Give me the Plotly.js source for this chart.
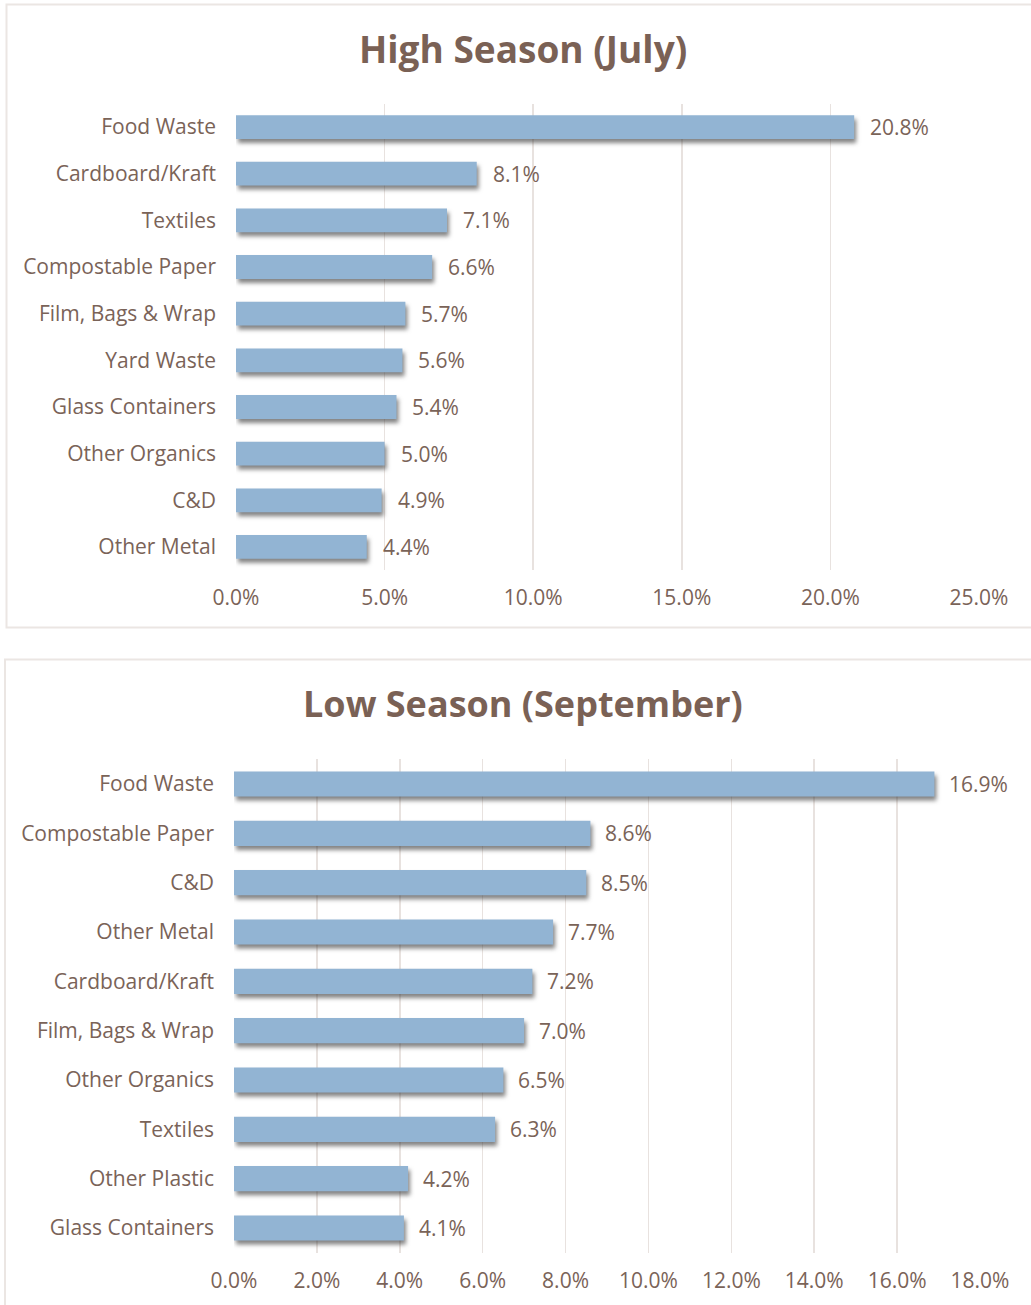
<!DOCTYPE html>
<html>
<head>
<meta charset="utf-8">
<script src="https://cdn.plot.ly/plotly-3.0.1.min.js"></script>
<style>
html,body{margin:0;padding:0;background:#fff;overflow:hidden;}
#chart{width:1031px;height:1305px;}
g.trace.bars path{filter:drop-shadow(2px 4px 2px rgba(50,50,50,0.6));}
</style>
</head>
<body>
<div id="chart"></div>
<script>
// ---- Data ----
const highTitle = "High Season (July)";
const highCategories = ["Food Waste","Cardboard/Kraft","Textiles","Compostable Paper","Film, Bags & Wrap","Yard Waste","Glass Containers","Other Organics","C&D","Other Metal"];
const highValues = [20.8, 8.1, 7.1, 6.6, 5.7, 5.6, 5.4, 5.0, 4.9, 4.4];

const lowTitle = "Low Season (September)";
const lowCategories = ["Food Waste","Compostable Paper","C&D","Other Metal","Cardboard/Kraft","Film, Bags & Wrap","Other Organics","Textiles","Other Plastic","Glass Containers"];
const lowValues = [16.9, 8.6, 8.5, 7.7, 7.2, 7.0, 6.5, 6.3, 4.2, 4.1];

const highTicks = [0, 5, 10, 15, 20, 25];
const lowTicks = [0, 2, 4, 6, 8, 10, 12, 14, 16, 18];

// ---- Style ----
const W = 1031, H = 1305;
const FONT = "Open Sans, Lato, sans-serif";
const TXT = "#7a6358";
const BAR = "#92b4d3";
const GRID = "#e8e2df";
const BOX = "#ebe6e3";
const px = v => v / W;
const py = v => 1 - v / H;
const pct = v => v.toFixed(1) + "%";

const traces = [
  {type:"bar", orientation:"h", x:highValues, y:highCategories, xaxis:"x", yaxis:"y",
   marker:{color:BAR}, hoverinfo:"skip", cliponaxis:false},
  {type:"bar", orientation:"h", x:lowValues, y:lowCategories, xaxis:"x2", yaxis:"y2",
   marker:{color:BAR}, hoverinfo:"skip", cliponaxis:false}
];

const annotations = [];
highValues.forEach((v,i)=>annotations.push({xref:"x",yref:"y",x:v,y:highCategories[i],text:pct(v),
  showarrow:false,xanchor:"left",xshift:14,font:{family:FONT,size:21,color:TXT}}));
lowValues.forEach((v,i)=>annotations.push({xref:"x2",yref:"y2",x:v,y:lowCategories[i],text:pct(v),
  showarrow:false,xanchor:"left",xshift:13,font:{family:FONT,size:21,color:TXT}}));
annotations.push({xref:"paper",yref:"paper",x:px(523),y:py(48),text:"<b>"+highTitle+"</b>",showarrow:false,
  xanchor:"center",yanchor:"middle",font:{family:FONT,size:37,color:"#7a6155"}});
annotations.push({xref:"paper",yref:"paper",x:px(523),y:py(704),text:"<b>"+lowTitle+"</b>",showarrow:false,
  xanchor:"center",yanchor:"middle",font:{family:FONT,size:36,color:"#7a6155"}});

const xCommon = {showgrid:true, gridcolor:GRID, gridwidth:1.5, zeroline:false, showline:false,
  ticks:"", tickmode:"array", tickfont:{family:FONT,size:21,color:TXT},
  ticklabelstandoff:13, automargin:false, fixedrange:true};
const yCommon = {type:"category", autorange:"reversed", showgrid:false, zeroline:false, showline:false,
  ticks:"", tickfont:{family:FONT,size:21,color:TXT}, ticklabelstandoff:19, automargin:false, fixedrange:true};

const layout = {
  width:W, height:H, margin:{l:0,r:0,t:0,b:0}, paper_bgcolor:"#fff", plot_bgcolor:"rgba(0,0,0,0)",
  showlegend:false, bargap:0.49,
  xaxis:Object.assign({}, xCommon, {domain:[px(236),px(979)], range:[0,25], tickvals:highTicks, ticktext:highTicks.map(pct), anchor:"y"}),
  yaxis:Object.assign({}, yCommon, {domain:[py(570.3),py(103.7)], anchor:"x"}),
  xaxis2:Object.assign({}, xCommon, {domain:[px(234),px(980)], range:[0,18], tickvals:lowTicks, ticktext:lowTicks.map(pct), anchor:"y2"}),
  yaxis2:Object.assign({}, yCommon, {domain:[py(1252.7),py(759.3)], anchor:"x2"}),
  annotations:annotations,
  shapes:[
    {type:"rect",xref:"paper",yref:"paper",x0:px(6.5),x1:px(1036),y0:py(4.5),y1:py(627.5),line:{color:BOX,width:2},layer:"below"},
    {type:"rect",xref:"paper",yref:"paper",x0:px(5),x1:px(1036),y0:py(659.5),y1:py(1310),line:{color:BOX,width:2},layer:"below"}
  ]
};

Plotly.newPlot("chart", traces, layout, {staticPlot:true, displayModeBar:false});
</script>
</body>
</html>
